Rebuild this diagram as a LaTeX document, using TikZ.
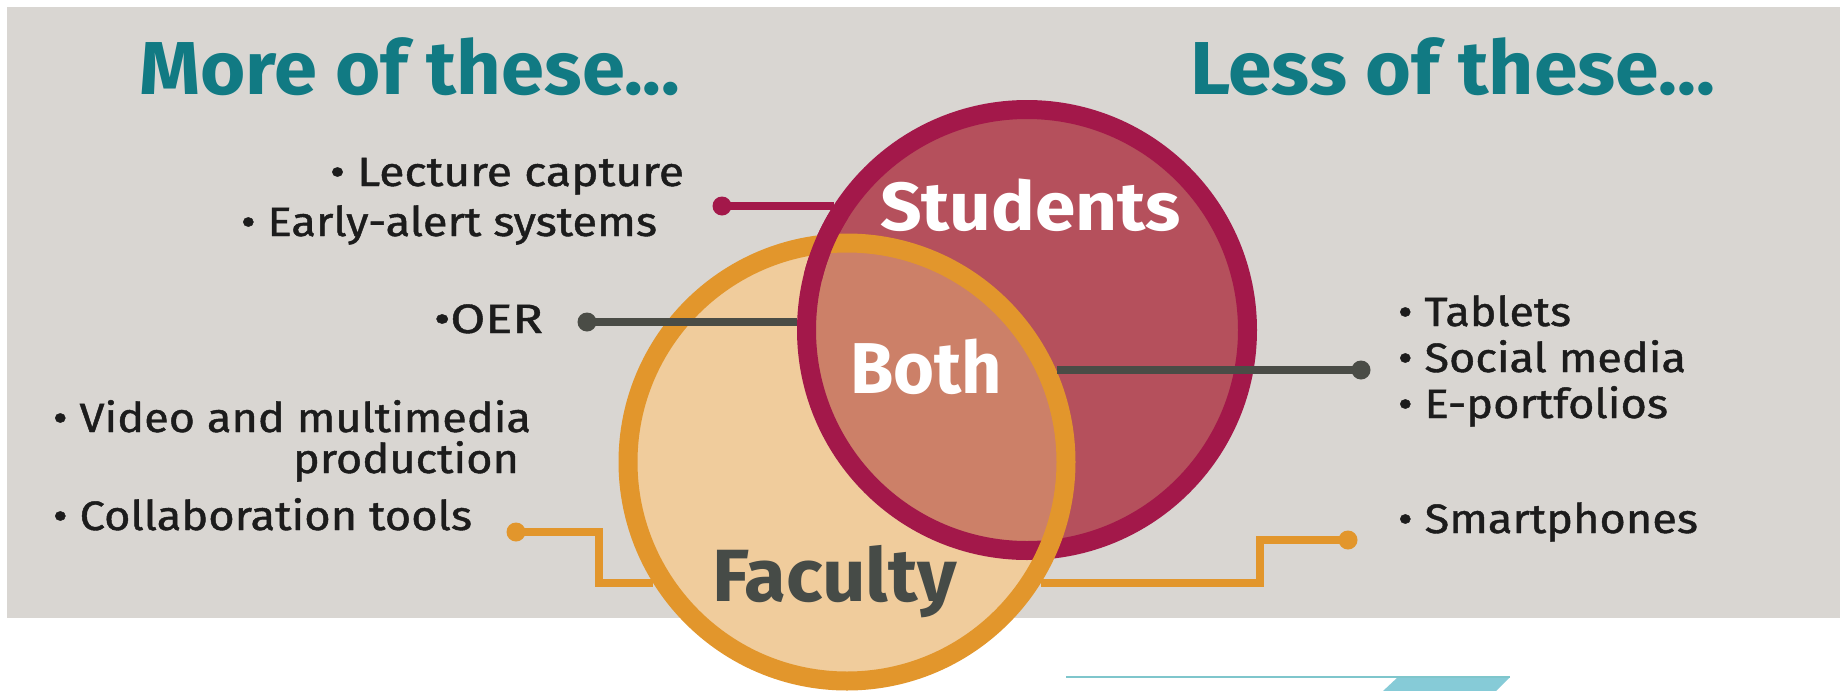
\documentclass[tikz,border=0pt]{standalone}
\usepackage{fontspec}
\setmainfont{Fira Sans}
\newfontfamily\bodyfont{Fira Sans}[FakeBold=1.0]
\usepackage{graphicx}
\definecolor{bggray}{HTML}{D9D6D2}
\definecolor{titleteal}{HTML}{117A83}
\definecolor{stufill}{HTML}{B5505C}
\definecolor{stuline}{HTML}{A3184A}
\definecolor{facfill}{HTML}{F0CC9C}
\definecolor{facline}{HTML}{E2962C}
\definecolor{bothfill}{HTML}{CC8068}
\definecolor{darkgray}{HTML}{4A4C46}
\definecolor{factext}{HTML}{464B47}
\definecolor{ink}{HTML}{1C1C1C}
\definecolor{decoline}{HTML}{7FC6CC}
\definecolor{decofill}{HTML}{86CBD7}
\newcommand\fitw[2]{\setbox0=\hbox{#2}\pgfmathsetmacro\fitratio{#1/\the\wd0}\scalebox{\fitratio}[1]{\box0}}
\tikzset{
  body/.style={inner sep=0pt, outer sep=0pt, text=ink, font=\bodyfont\fontsize{41}{46}\selectfont},
  title/.style={inner sep=0pt, outer sep=0pt, text=titleteal, font=\fontsize{75}{80}\selectfont\bfseries},
  biglabel/.style={inner sep=0pt, outer sep=0pt, font=\fontsize{70}{76}\selectfont\bfseries},
  ring/.style={circle, draw=#1, line width=19pt, inner sep=0pt},
  conn/.style={draw=#1, line width=8pt, line join=miter},
  enddot/.style={circle, fill=#1, minimum size=19pt, inner sep=0pt}
}
\begin{document}
\begin{tikzpicture}[x=1pt, y=-1pt]
\useasboundingbox (0,0) rectangle (1840,691);
\fill[white] (0,0) rectangle (1840,691);
\fill[bggray] (7,7) rectangle (1840,618);
% fills
\fill[facfill] (847,462) circle (219);
\fill[stufill] (1027,330) circle (220.5);
\begin{scope}
  \clip (847,462) circle (219);
  \fill[bothfill] (1027,330) circle (220.5);
\end{scope}
% rings
\node[ring=stuline, minimum size=441pt] (stu) at (1027,330) {};
\node[ring=facline, minimum size=438pt] (fac) at (847,462) {};
\begin{scope}
  \clip (823.8,244.2) circle (36);
  \draw[stuline, line width=19pt] (1027,330) circle (220.5);
\end{scope}
% decoration at bottom
\fill[decofill] (1398,677) -- (1510,677) -- (1496,691) -- (1383,691) -- cycle;
\draw[decoline, line width=2.5pt] (1066,677) -- (1510,677);
% connectors
\node[enddot=stuline] (d1) at (722,206) {};
\draw[conn=stuline] (d1.center) -- (d1.center -| stu.147.4);
\node[enddot=darkgray] (d2) at (587,322) {};
\draw[conn=darkgray] (d2.center) -- (d2.center -| stu.178);
\node[enddot=darkgray] (d3) at (1361,370) {};
\draw[conn=darkgray] (d3.center -| fac.23.8) -- (d3.center);
\node[enddot=facline] (d4) at (516,532) {};
\coordinate (k4) at (599,532);
\coordinate (e4) at (fac.212.65);
\draw[conn=facline] (d4.center) -- (k4) |- (e4);
\node[enddot=facline] (d5) at (1348,540) {};
\coordinate (k5) at (1260,540);
\coordinate (e5) at (fac.328.8);
\draw[conn=facline] (e5) -| (k5) -- (d5.center);
% titles
\node[title, anchor=base west] (more) at (139,94) {\fitw{541pt}{More of these...}};
\node[title, anchor=base west] (less) at (1190,94) {\fitw{525pt}{Less of these...}};
% circle labels
\node[biglabel, text=white, anchor=base west, font=\fontsize{68}{74}\selectfont\bfseries] (lstu) at (880,230) {\fitw{301pt}{Students}};
\node[biglabel, text=white, anchor=base west, font=\fontsize{72}{78}\selectfont\bfseries] (lboth) at (850,393) {\fitw{152pt}{Both}};
\node[biglabel, text=factext, anchor=base west, font=\fontsize{74}{80}\selectfont\bfseries] (lfac) at (712,601) {\fitw{245pt}{Faculty}};
% left list
\node[body, anchor=base west] (a1) at (330,186) {\fitw{354pt}{• Lecture capture}};
\node[body, anchor=base west] (a2) at (241,236) {\fitw{416pt}{• Early-alert systems}};
\node[body, anchor=base west] (a3) at (434,333) {\fitw{109pt}{•OER}};
\node[body, anchor=base west] (a4) at (53,432) {\fitw{478pt}{• Video and multimedia}};
\node[body, anchor=base west] (a5) at (293,473) {\fitw{226pt}{production}};
\node[body, anchor=base west] (a6) at (53,530) {\fitw{419pt}{• Collaboration tools}};
% right list
\node[body, anchor=base west] (b1) at (1398,326) {\fitw{173pt}{• Tablets}};
\node[body, anchor=base west] (b2) at (1398,372) {\fitw{288pt}{• Social media}};
\node[body, anchor=base west] (b3) at (1398,418) {\fitw{270pt}{• E-portfolios}};
\node[body, anchor=base west] (b4) at (1398,533) {\fitw{300pt}{• Smartphones}};
\end{tikzpicture}
\end{document}
